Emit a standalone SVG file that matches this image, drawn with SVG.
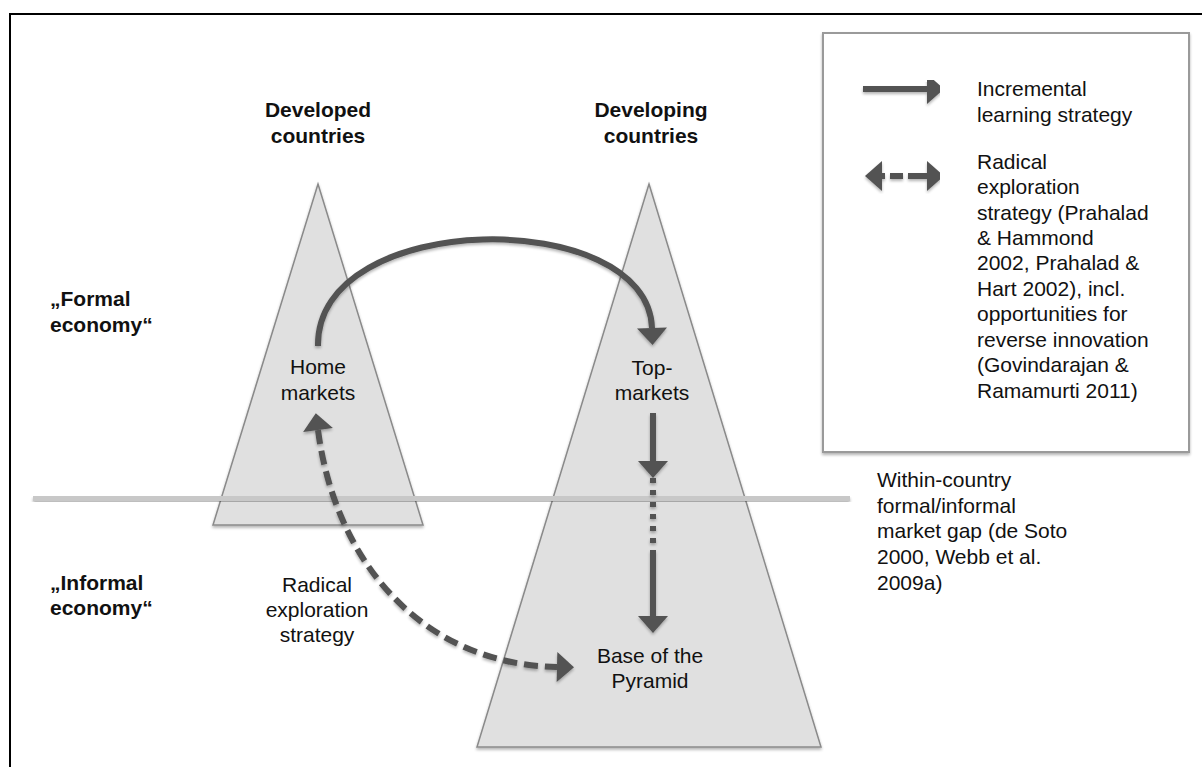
<svg xmlns="http://www.w3.org/2000/svg" width="1202" height="767" viewBox="0 0 1202 767">
  <style>
    text { font-family: "Liberation Sans", Arial, Helvetica, sans-serif; fill: #111; font-size: 21px; }
    .b { font-weight: bold; }
    .c { text-anchor: middle; }
    .pyr { fill: #e0e0e0; stroke: #8a8a8a; stroke-width: 1.5; }
    .conn { fill: none; stroke: #525252; stroke-width: 6; }
    .dash { stroke-dasharray: 14 7; }
    .dots { stroke-dasharray: 5 7; }
  </style>
  <defs>
    <filter id="shadow" x="-10%" y="-10%" width="130%" height="130%">
      <feGaussianBlur in="SourceAlpha" stdDeviation="1.5"/>
      <feOffset dx="0" dy="2" result="o"/>
      <feComponentTransfer><feFuncA type="linear" slope="0.3"/></feComponentTransfer>
      <feMerge><feMergeNode/><feMergeNode in="SourceGraphic"/></feMerge>
    </filter>
    <marker id="head" markerUnits="userSpaceOnUse" markerWidth="20" markerHeight="32" refX="0" refY="15" orient="auto-start-reverse" overflow="visible">
      <path d="M0,0 L17,15 L0,30 z" fill="#525252"/>
    </marker>
  </defs>

  <!-- outer frame -->
  <rect x="10" y="14" width="1200" height="760" fill="#fff" stroke="#000" stroke-width="2"/>

  <!-- pyramids -->
  <g id="developed-pyramid" filter="url(#shadow)">
    <polygon class="pyr" points="318,184 423,525 213,525"/>
  </g>
  <g id="developing-pyramid" filter="url(#shadow)">
    <polygon class="pyr" points="649,184 821,747 477,747"/>
  </g>

  <!-- formal / informal gap line -->
  <g id="market-gap-line" filter="url(#shadow)">
    <rect x="33" y="496" width="817" height="5" fill="#c8c8c8"/>
  </g>

  <!-- column headings -->
  <g id="developed-label">
    <text class="b c" x="318" y="117">Developed</text>
    <text class="b c" x="318" y="143">countries</text>
  </g>
  <g id="developing-label">
    <text class="b c" x="651" y="117">Developing</text>
    <text class="b c" x="651" y="143">countries</text>
  </g>

  <!-- row headings -->
  <g id="formal-label">
    <text class="b" x="50" y="306">„Formal</text>
    <text class="b" x="50" y="332">economy“</text>
  </g>
  <g id="informal-label">
    <text class="b" x="50" y="590">„Informal</text>
    <text class="b" x="50" y="615">economy“</text>
  </g>

  <!-- market nodes -->
  <g id="home-markets">
    <text class="c" x="318" y="374">Home</text>
    <text class="c" x="318" y="400">markets</text>
  </g>
  <g id="top-markets">
    <text class="c" x="652" y="375">Top-</text>
    <text class="c" x="652" y="400">markets</text>
  </g>
  <g id="base-of-pyramid">
    <text class="c" x="650" y="663">Base of the</text>
    <text class="c" x="650" y="688">Pyramid</text>
  </g>
  <g id="radical-label">
    <text class="c" x="317" y="592">Radical</text>
    <text class="c" x="317" y="617">exploration</text>
    <text class="c" x="317" y="642">strategy</text>
  </g>
  <g id="gap-label">
    <text x="877" y="487">Within-country</text>
    <text x="877" y="513">formal/informal</text>
    <text x="877" y="538">market gap (de Soto</text>
    <text x="877" y="564">2000, Webb et al.</text>
    <text x="877" y="590">2009a)</text>
  </g>

  <!-- legend -->
  <g id="legend">
    <rect x="823" y="33" width="366" height="419" fill="#fff" stroke="#9a9a9a" stroke-width="2" filter="url(#shadow)"/>
    <g filter="url(#shadow)">
      <path class="conn" d="M863,89 L927,89" marker-end="url(#head)"/>
      <path class="conn" d="M882,176 L927,176" stroke-dasharray="3 5 13 5 19" marker-start="url(#head)" marker-end="url(#head)"/>
    </g>
    <text x="977" y="96">Incremental</text>
    <text x="977" y="122">learning strategy</text>
    <text x="977" y="169">Radical</text>
    <text x="977" y="194">exploration</text>
    <text x="977" y="220">strategy (Prahalad</text>
    <text x="977" y="245">&amp; Hammond</text>
    <text x="977" y="270">2002, Prahalad &amp;</text>
    <text x="977" y="296">Hart 2002), incl.</text>
    <text x="977" y="321">opportunities for</text>
    <text x="977" y="347">reverse innovation</text>
    <text x="977" y="372">(Govindarajan &amp;</text>
    <text x="977" y="398">Ramamurti 2011)</text>
  </g>

  <!-- connectors -->
  <g id="connectors" filter="url(#shadow)">
    <path id="home-to-top" class="conn" d="M318,346 C316,208 648,206 652,328" marker-end="url(#head)"/>
    <path id="top-down-1" class="conn" d="M653,413 L653,461" marker-end="url(#head)"/>
    <path id="top-down-gap" class="conn dots" d="M653,478 L653,553"/>
    <path id="top-down-2" class="conn" d="M653,553 L653,616" marker-end="url(#head)"/>
    <path id="home-to-base" class="conn dash" d="M318,430 C335,560 420,664 557,667" marker-start="url(#head)" marker-end="url(#head)"/>
  </g>
</svg>
